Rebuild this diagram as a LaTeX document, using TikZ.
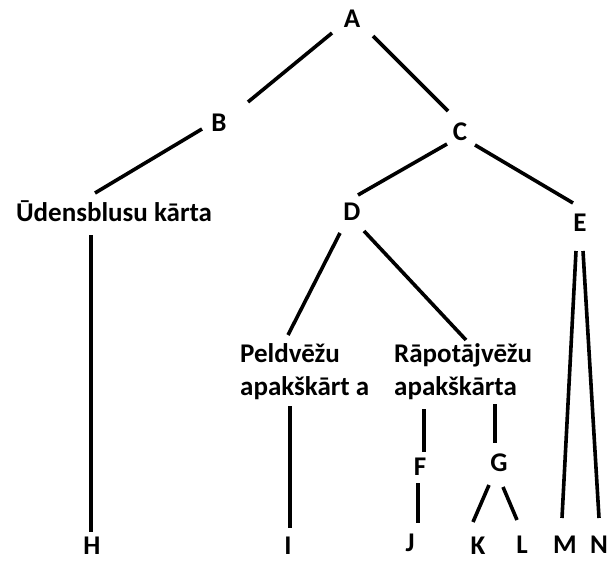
\documentclass[tikz,border=0pt]{standalone}
\usepackage{fontspec}
\setmainfont{Carlito}
\usetikzlibrary{calc}
\begin{document}
\begin{tikzpicture}[x=1pt,y=-1pt,
  every node/.style={font=\fontsize{27}{33}\selectfont\bfseries},
  lbl/.style={inner sep=0pt, text height=17.4pt, text depth=0pt},
  grp/.style={inner sep=0pt, anchor=base west},
  edge/.style={line width=3.6pt}]
\useasboundingbox[fill=white] (0,0) rectangle (609,561);

% labels of the tree
\node[lbl] (A) at (352,19) {A};
\node[lbl] (B) at (219,123) {B};
\node[lbl] (C) at (460,132) {C};
\node[lbl] (U) at (114,213) {Ūdensblusu kārta};
\node[lbl] (D) at (352,212) {D};
\node[lbl] (E) at (580,223) {E};
\node[grp] (P) at (240,362) {\begin{tabular}[t]{@{}l@{}}Peldvēžu\\apakškārt a\end{tabular}};
\node[grp] (R) at (394,362) {\begin{tabular}[t]{@{}l@{}}Rāpotājvēžu\\apakškārta\end{tabular}};
\node[lbl] (F) at (420,467) {F};
\node[lbl] (G) at (499,463) {G};
\node[lbl] (H) at (92,546) {H};
\node[lbl] (I) at (288,546) {I};
\node[lbl] (J) at (410,543) {J};
\node[lbl] (K) at (478,546) {K};
\node[lbl] (L) at (522,545) {L};
\node[lbl] (M) at (565,545) {M};
\node[lbl] (N) at (599,545) {N};

% branches
\draw[edge] ($(A)+(-20,14)$) -- ($(B)+(29,-21)$);
\draw[edge] ($(A)+(21,17)$) -- ($(C)+(-12,-21)$);
\draw[edge] ($(B)+(-17,6)$) -- ($(U)+(-19,-20)$);
\draw[edge] ($(C)+(-13,12)$) -- ($(D)+(6,-17)$);
\draw[edge] ($(C)+(15,13)$) -- ($(E)+(-7,-20)$);
\draw[edge] ($(U)+(-23,22)$) -- ($(H)+(-1,-14)$);
\draw[edge] ($(D)+(-12,21)$) -- ($(P.base west)+(48,-27)$);
\draw[edge] ($(D)+(12,19)$) -- ($(R.base west)+(72,-22)$);
\draw[edge] ($(P.base west)+(50,44)$) -- ($(I)+(2,-18)$);
\draw[edge] ($(R.base west)+(30,47)$) -- ($(F)+(4,-15)$);
\draw[edge] ($(F)+(-2,16)$) -- ($(J)+(8,-20)$);
\draw[edge] ($(R.base west)+(101,42)$) -- ($(G)+(-4,-20)$);
\draw[edge] ($(G)+(-10,22)$) -- ($(K)+(-5,-24)$);
\draw[edge] ($(G)+(4,24)$) -- ($(L)+(-5,-25)$);
\draw[edge] ($(E)+(-4,28)$) -- ($(M)+(-3,-27)$);
\draw[edge] ($(E)+(3,28)$) -- ($(N)+(0,-27)$);
\end{tikzpicture}
\end{document}
